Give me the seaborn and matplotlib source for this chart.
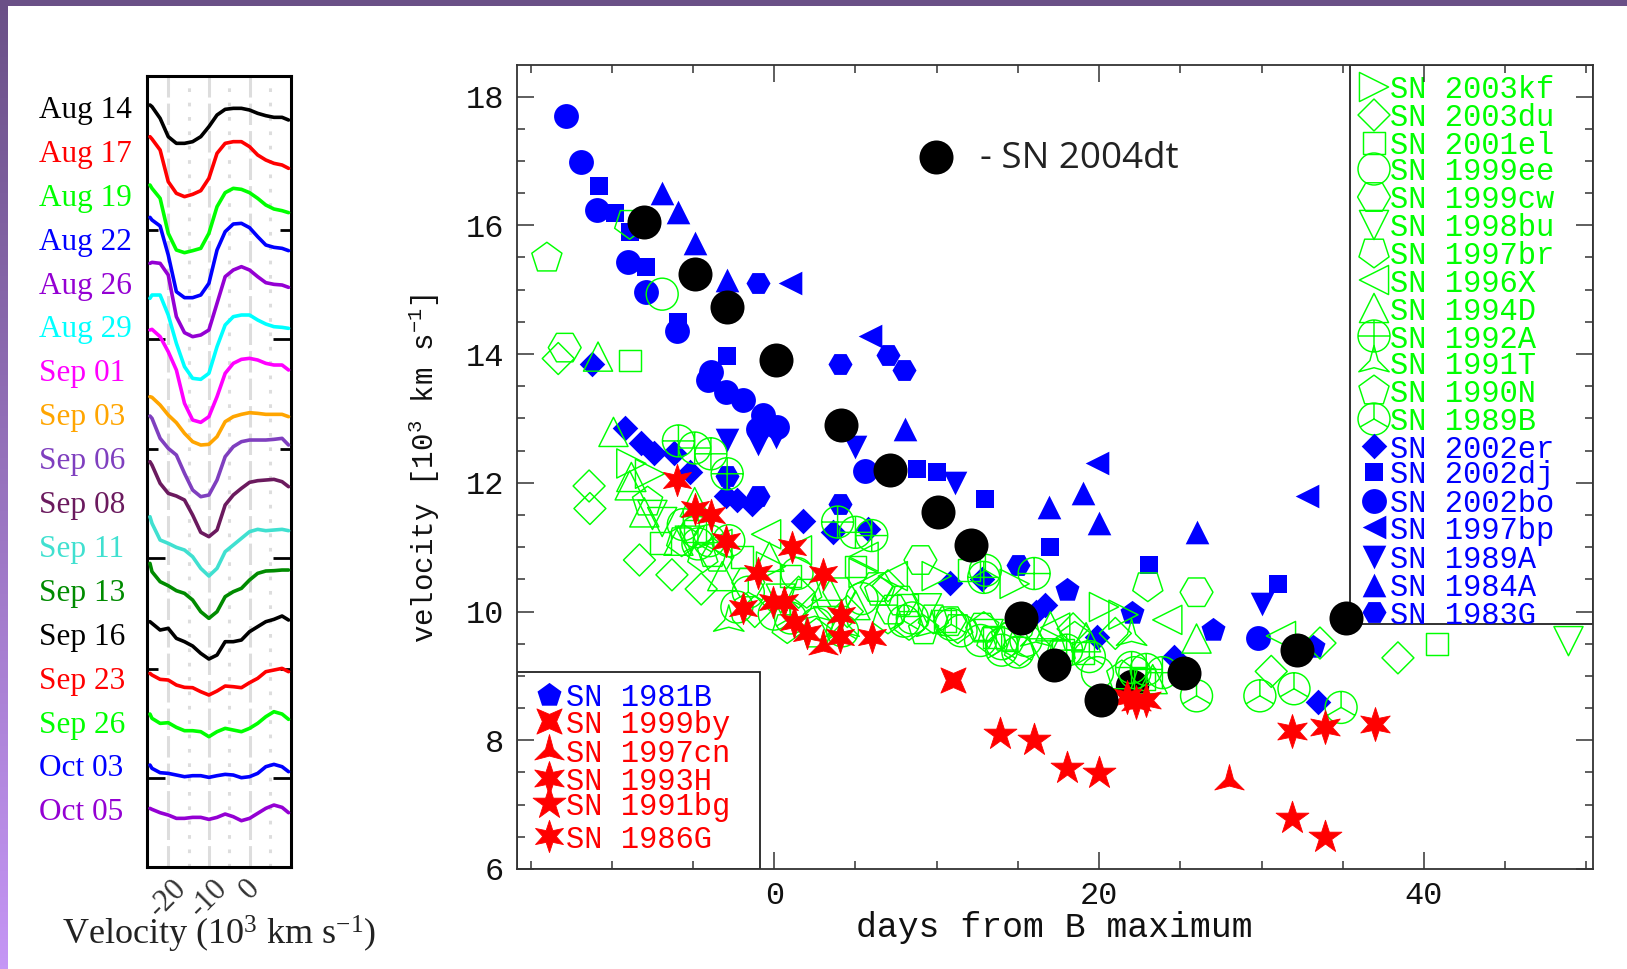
import numpy as np
import pandas as pd
import matplotlib
matplotlib.use("Agg")
import matplotlib.pyplot as plt
from matplotlib.path import Path
from matplotlib.patches import Rectangle
from matplotlib.transforms import Affine2D
import seaborn as sns

W, H = 1627, 969
sns.set_theme(style="white")
plt.rcParams['mathtext.fontset'] = 'custom'
plt.rcParams['mathtext.rm'] = 'Liberation Serif'
plt.rcParams['mathtext.tt'] = 'Liberation Mono'
plt.rcParams['mathtext.default'] = 'regular'

# ---------- left panel data ----------
velocity = [-24.5, -24, -22, -20, -18, -16, -14, -12, -10, -8, -6, -4, -2, 0, 2, 4, 6, 8, 9.6]
dates = ["Aug 14", "Aug 17", "Aug 19", "Aug 22", "Aug 26", "Aug 29", "Sep 01", "Sep 03", "Sep 06",
         "Sep 08", "Sep 11", "Sep 13", "Sep 16", "Sep 23", "Sep 26", "Oct 03", "Oct 05"]
date_colors = ["#000000", "#ff0000", "#00ff00", "#0000ff", "#9400d3", "#00ffff", "#ff00ff", "#ffa500",
               "#7f3fbf", "#6b1a5e", "#40e0d0", "#008b00", "#000000", "#ff0000", "#00ff00", "#0000ff", "#9400d3"]
aug14 = [2285,2280,2245,2190,2170,2170,2175,2190,2220,2255,2272,2275,2275,2270,2260,2253,2248,2248,2240]
aug17 = [2190,2183,2150,2055,2020,2010,2017,2028,2065,2140,2170,2175,2175,2160,2135,2120,2110,2105,2095]
aug19 = [2045,2035,2005,1900,1850,1842,1848,1855,1900,1980,2022,2035,2032,2022,2005,1985,1973,1968,1962]
aug22 = [1948,1940,1922,1835,1725,1707,1707,1715,1750,1850,1905,1928,1930,1917,1890,1865,1858,1855,1848]
aug26 = [1810,1813,1810,1775,1650,1602,1590,1595,1610,1690,1770,1790,1800,1790,1770,1752,1747,1745,1738]
aug29 = [1705,1715,1715,1655,1570,1500,1465,1462,1480,1560,1625,1650,1655,1655,1640,1628,1620,1618,1615]
sep01 = [1610,1612,1590,1545,1490,1390,1340,1333,1350,1410,1480,1510,1522,1525,1520,1510,1505,1505,1490]
sep03 = [1410,1408,1385,1355,1332,1300,1275,1265,1267,1290,1335,1350,1357,1362,1360,1357,1357,1357,1350]
sep06 = [1352,1345,1285,1255,1235,1180,1130,1110,1115,1160,1230,1260,1275,1280,1280,1280,1282,1285,1265]
sep08 = [1215,1205,1150,1120,1112,1100,1055,1003,990,1010,1085,1115,1135,1153,1158,1160,1162,1155,1140]
sep11 = [1050,1030,980,970,958,950,930,895,872,895,945,965,985,1005,1012,1008,1010,1012,1008]
sep13 = [910,885,855,843,828,820,800,765,745,765,810,825,835,860,880,887,888,890,890]
sep16 = [735,730,710,715,685,675,662,640,623,635,675,675,680,705,720,735,742,752,740]
sep23 = [580,575,562,560,545,538,537,525,515,527,542,540,537,552,565,585,590,595,585]
sep26 = [458,445,430,432,418,408,408,405,390,405,415,410,405,415,430,450,465,458,442]
oct03 = [305,295,282,280,275,270,273,273,268,273,277,275,267,270,280,300,307,300,285]
oct05 = [175,172,162,155,145,145,148,148,142,148,158,150,138,145,160,175,185,178,162]
spectra = [aug14, aug17, aug19, aug22, aug26, aug29, sep01, sep03, sep06, sep08, sep11, sep13, sep16,
           sep23, sep26, oct03, oct05]
flux_ticks_major = [265, 927, 1582]
flux_ticks_minor = [593, 1253, 1910]

# ---------- right panel data (days, velocity) ----------
sn2004dt = [(-8,16.05),(-4.9,15.25),(-2.9,14.73),(0.1,13.9),(4.1,12.9),(7.1,12.2),(10.1,11.55),(12.1,11.03),
            (15.2,9.9),(17.2,9.17),(20.1,8.63),(25.2,9.05),(32.2,9.4),(35.2,9.9)]
sn2004dt_under = [(22.0,8.85)]

sn2003kf = [(-8.8,12.3),(-7.65,12.14),(-0.2,10.7),(5.5,10.6),(10.0,10.55),(14.8,10.43),(20.3,10.07),(21.5,9.95)]
sn2003du = [(-13.3,13.93),(-11.4,11.95),(-11.35,11.6),(-8.3,10.8),(-6.3,10.57),(-4.5,10.35),(-1.2,10.0),(1.5,10.3),
            (4.5,10.0),(7,10.4),(18.4,9.73),(21,9.66),(30.6,9.07),(33.6,9.51),(38.4,9.28)]
sn2001el = [(-8.9,13.9),(-7,11.06),(-4.9,11.25),(-2.0,10.85),(1,10.55),(5,10.7),(8.2,10.1),(10.5,9.85),(12,10.64),
            (13.5,9.6),(17.8,9.4),(19,9.35),(22.8,8.95),(40.8,9.49)]
sn1999ee = [(-6.9,14.93),(-4.8,11.24),(-4,11.1),(-2.8,11.1),(-2.3,10.07),(0,9.96),(1.4,10.59),(2.6,9.81),(5.4,10.2),
            (8.5,9.9),(11.5,9.7),(12.7,9.55),(14,9.5),(15.5,9.55),(19.9,9.05),(22.2,9.05)]
sn1999cw = [(-12.9,14.1),(-3.5,10.85),(-1.6,10.45),(4.0,10.3),(6.3,10.38),(7.3,10.03),(7.8,10.17),(9.0,10.8),(10.8,9.85),
            (12.8,9.75),(14.6,9.6),(26,10.3)]
sn1998bu = [(-7.5,11.5),(-6.9,11.39),(-5.2,11.1),(0.4,10.2),(3.3,9.85),(9.4,10.05),(13.2,9.65),(16.6,9.35),(48.9,9.54)]
sn1997br = [(-8.9,16.03),(-5.7,11.1),(-4.4,10.85),(0.8,9.75),(2.0,10.3),(7.0,9.9),(8.3,9.8),(9.8,9.9),(11.3,9.75),(13.4,9.55),
            (15.1,9.4),(17.6,9.35),(23,10.4)]
sn1996X = [(-0.5,11.2),(-3.5,11.05),(1.4,10.95),(5.5,10.85),(7.3,10.55),(17.3,9.75),(24.2,9.87),(31.2,9.62)]
sn1994D = [(-10.85,13.96),(-9.9,12.79),(-8.8,12.09),(-8.9,11.96),(-8,11.54),(-5.9,11.1),(-4.9,11.7),(-3.2,10.55),(-0.3,10.85),
           (3.2,10.4),(5.0,10.1),(17,9.77),(19.2,9.6),(23.3,8.95),(26,9.58)]
sn1992A = [(-5.9,12.65),(-4.9,12.54),(-3.9,12.45),(-2.9,12.14),(3.9,11.39),(5,11.23),(6,11.18),(12.9,10.53),(16,10.59),
           (18,9.4),(22,9.13),(22.9,9.1),(23.9,9.05)]
sn1991T = [(-2.8,9.83),(2.5,10.0),(4.3,9.75),(9.7,9.75),(16.1,9.6),(22,9.61)]
sn1990N = [(-14,15.49),(-7.8,11.7),(-3.8,10.9),(2.6,9.65),(6.5,10.3),(9.2,9.7),(12.9,9.75),(14.3,9.6),(18.5,9.6),(21.4,9.0)]
sn1989B = [(-5.6,11.35),(-4.7,11.05),(-1.6,10.3),(1.0,9.9),(4.2,9.7),(8.0,9.85),(10.9,9.8),(13,10.64),(14,9.4),(15,9.37),
           (19.4,9.3),(26,8.69),(29.9,8.69),(32,8.8),(34.9,8.51)]

sn2002er = [(-11.2,13.85),(-9.2,12.85),(-8.2,12.62),(-7.4,12.46),(-6.2,12.46),(-5.2,12.17),(-3,11.8),(-2.3,11.73),(-1.4,11.67),
            (1.8,11.4),(3.6,11.23),(5.75,11.28),(10.8,10.45),(12.8,10.5),(16.1,10.0),(16.7,10.1),(19.9,9.6),(24.6,9.3),(33.5,8.6)]
sn2002dj = [(-10.8,16.61),(-9.8,16.19),(-8.9,15.9),(-7.9,15.35),(-5.9,14.5),(-2.9,13.97),(8.76,12.22),(10,12.17),(13,11.75),
            (17,11.0),(23.1,10.72),(31,10.43)]
sn2002bo = [(-12.85,17.7),(-11.9,16.99),(-10.9,16.23),(-9,15.43),(-7.9,14.96),(-6,14.35),(-3.9,13.72),(-4.07,13.6),(-3,13.41),
            (-1.9,13.28),(-0.7,13.05),(-1,12.84),(0.14,12.87),(5.6,12.18),(29.8,9.59)]
sn1997bp = [(1,15.1),(5.9,14.28),(19.9,12.31),(32.8,11.8)]
sn1989A = [(-2.9,12.66),(-1,12.6),(0.1,12.71),(5,12.56),(11.1,12),(30,10.12)]
sn1984A = [(-6.9,16.5),(-5.9,16.21),(-4.9,15.72),(-2.9,15.15),(8.05,12.84),(16.9,11.63),(19,11.84),(20,11.37),(26,11.23)]
sn1983G = [(-1,15.1),(4.04,13.84),(7,13.98),(8,13.75),(-1,11.8),(4.04,11.67),(15,10.73),(-2.9,12.11)]
sn1981B = [(18,10.33),(22,9.97),(27,9.72),(33.2,9.45)]

sn1999by = [(11.03,8.93)]
sn1997cn = [(3.0,9.47),(28,7.36)]
sn1993H = [(21.7,8.67),(22.3,8.6),(22.9,8.63),(31.9,8.15),(33.9,8.2),(37,8.26)]
sn1991bg = [(13.9,8.09),(16,8.0),(18,7.57),(20,7.49),(31.9,6.8),(33.9,6.49)]
sn1986G = [(-6,12.05),(-4.9,11.6),(-3.9,11.5),(-3,11.1),(-1.9,10.05),(-1,10.6),(-0.1,10.15),(0.6,10.15),(1.1,11.0),(3,10.58),
           (1.2,9.83),(2,9.66),(4.1,9.95),(4.07,9.6),(6,9.6)]

# ---------- markers ----------
def circ_cross():
    return Path.make_compound_path(Path.unit_circle(), Path([(-1,0),(1,0)]), Path([(0,-1),(0,1)]))
def circ_y():
    a = np.deg2rad(30)
    return Path.make_compound_path(Path.unit_circle(), Path([(0,0),(0,1)]),
                                   Path([(0,0),(-np.cos(a),-np.sin(a))]), Path([(0,0),(np.cos(a),-np.sin(a))]))
tri_star = Path.unit_regular_star(3, innerCircle=0.27)
x_star = Path.unit_regular_star(4, innerCircle=0.4).transformed(Affine2D().rotate_deg(45))
six_star = Path.unit_regular_star(6, innerCircle=0.42)

GREEN, BLUE, RED = "#00ff00", "#0000ff", "#ff0000"
green_series = [("SN 2003kf", sn2003kf, ">", 440), ("SN 2003du", sn2003du, "D", 265), ("SN 2001el", sn2001el, "s", 245),
                ("SN 1999ee", sn1999ee, "o", 530), ("SN 1999cw", sn1999cw, "H", 560), ("SN 1998bu", sn1998bu, "v", 440),
                ("SN 1997br", sn1997br, (5,0,180), 520), ("SN 1996X", sn1996X, "<", 440), ("SN 1994D", sn1994D, "^", 440),
                ("SN 1992A", sn1992A, circ_cross(), 530), ("SN 1991T", sn1991T, tri_star, 640), ("SN 1990N", sn1990N, "p", 520),
                ("SN 1989B", sn1989B, circ_y(), 530)]
blue_series = [("SN 2002er", sn2002er, "D", 170), ("SN 2002dj", sn2002dj, "s", 160), ("SN 2002bo", sn2002bo, "o", 320),
               ("SN 1997bp", sn1997bp, "<", 290), ("SN 1989A", sn1989A, "v", 290), ("SN 1984A", sn1984A, "^", 290),
               ("SN 1983G", sn1983G, "H", 300)]
blue2 = [("SN 1981B", sn1981B, "p", 330)]
red_series = [("SN 1999by", sn1999by, x_star, 330), ("SN 1997cn", sn1997cn, tri_star, 600), ("SN 1993H", sn1993H, six_star, 600),
              ("SN 1991bg", sn1991bg, "*", 620), ("SN 1986G", sn1986G, six_star, 540)]

fig = plt.figure(figsize=(W/100, H/100), dpi=100, facecolor="white")

def add_ax(l, t, r, b):
    return fig.add_axes([l/W, 1-b/H, (r-l)/W, (b-t)/H])

# purple frame
bg = add_ax(0, 0, 8, H)
bg.imshow(np.linspace(0, 1, 256)[:, None], aspect="auto", cmap=matplotlib.colors.LinearSegmentedColormap.from_list("f", ["#6a5087", "#c596f5"]))
bg.axis("off")
tp = add_ax(0, 0, W, 5.5)
tp.add_patch(Rectangle((0, 0), 1, 1, color="#6a5087", transform=tp.transAxes))
tp.axis("off")

# ---------- left panel ----------
axL = add_ax(146.7, 76, 291, 866.7)
for v in [-20, -10, 0]:
    axL.axvline(v, color="#dddddd", lw=2.2, ls=(0, (7, 2)), zorder=1)
for v in [-15, -5, 5]:
    axL.axvline(v, color="#dddddd", lw=2.2, ls=(0, (1.2, 3.5)), zorder=1)
for name, col, flux in zip(dates, date_colors, spectra):
    df = pd.DataFrame({"velocity": velocity, "flux": flux})
    sns.lineplot(data=df, x="velocity", y="flux", color=col, lw=2.6, ax=axL, estimator=None, sort=False, zorder=3)
axL.set_xlim(-25.3, 10.2)
axL.set_ylim(0, 2372)
axL.set_xlabel("")
axL.set_ylabel("")
axL.set_xticks([-20, -10, 0])
axL.set_xticklabels(["-20", "-10", "0"], rotation=45, ha="center", va="top", family="Liberation Serif",
                    fontsize=22, color="#333333")
axL.tick_params(axis="x", length=0, pad=5, bottom=False)
axL.set_yticks(flux_ticks_major)
axL.set_yticks(flux_ticks_minor, minor=True)
axL.tick_params(axis="y", which="major", left=True, right=True, length=13, width=2, direction="in", color="black", labelleft=False)
axL.tick_params(axis="y", which="minor", left=True, right=True, length=8, width=2, direction="in", color="black", labelleft=False)
for s in axL.spines.values():
    s.set_linewidth(2.2)
    s.set_color("black")
for i, (name, col) in enumerate(zip(dates, date_colors)):
    fig.text(39/W, 1-(118+i*43.9)/H, name, color=col, family="Liberation Serif", fontsize=22.5, ha="left", va="baseline")
fig.text(219/W, 1-934/H, r"Velocity (10$^{3}$ km s$^{-1}$)", family="Liberation Serif", fontsize=26, color="#222222", ha="center", va="center")

# ---------- right panel ----------
ax = add_ax(516.5, 65, 1593, 869)

def scatter(pts, marker, s, color, hollow=False, lw=1.05, z=3):
    d = pd.DataFrame(pts, columns=["days", "vel"])
    before = len(ax.collections)
    sns.scatterplot(data=d, x="days", y="vel", marker=marker, s=s, color=color, edgecolor=color,
                    linewidth=lw, ax=ax, zorder=z, legend=False)
    if hollow:
        ax.collections[before].set_facecolor("none")

scatter(sn2004dt_under, "o", 530, "black", z=2)
for _, pts, m, s in green_series:
    scatter(pts, m, s, GREEN, hollow=True, z=3)
for _, pts, m, s in blue_series + blue2:
    scatter(pts, m, s, BLUE, z=2.5, lw=0)
for _, pts, m, s in red_series:
    scatter(pts, m, s, RED, z=4, lw=0.6)
scatter(sn2004dt, "o", 600, "black", z=10, lw=0)

ax.set_xlim(-15.87, 50.41)
ax.set_ylim(6, 18.49)
ax.set_xlabel("")
ax.set_ylabel("")
ax.set_xticks([0, 20, 40])
ax.set_xticks(np.arange(-15, 51, 5), minor=True)
ax.set_yticks([6, 8, 10, 12, 14, 16, 18])
ax.set_yticks(np.arange(6, 18.5, 0.5), minor=True)
ax.tick_params(which="major", direction="in", length=12.2, width=1.1, color="#333333",
               top=True, right=True, bottom=True, left=True, labelsize=23, pad=9, labelcolor="#111111")
ax.tick_params(which="minor", direction="in", length=5.8, width=1.1, color="#333333",
               top=True, right=True, bottom=True, left=True)
for lab in ax.get_xticklabels() + ax.get_yticklabels():
    lab.set_family("Liberation Mono")
for s in ax.spines.values():
    s.set_linewidth(1.3)
    s.set_color("#333333")
    s.set_zorder(20)
ax.xaxis.set_zorder(20)
ax.yaxis.set_zorder(20)

def to_ax(px, py):
    return (px-516.5)/(1593-516.5), (869-py)/(869-65)

# legend boxes
x0, y1 = to_ax(1350, 624)
ax.add_patch(Rectangle((x0, y1), 1-x0, 1-y1, transform=ax.transAxes, fc="white", ec="#222222", lw=1.3, zorder=5))
x1, y2 = to_ax(760, 672)
ax.add_patch(Rectangle((0, 0), x1, y2, transform=ax.transAxes, fc="white", ec="#222222", lw=1.3, zorder=5))

def legend_row(px_m, px_t, py, label, marker, s, color, hollow, lw):
    mx, my = to_ax(px_m, py)
    tx, ty = to_ax(px_t, py)
    before = len(ax.collections)
    sns.scatterplot(x=[mx], y=[my], marker=marker, s=s, color=color, edgecolor=color, linewidth=lw,
                    ax=ax, transform=ax.transAxes, zorder=6, legend=False, clip_on=False)
    if hollow:
        ax.collections[before].set_facecolor("none")
    ax.text(tx, ty, label, transform=ax.transAxes, color=color, family="Liberation Mono", fontsize=22,
            ha="left", va="center_baseline", zorder=7)

rows_r = [87,115,143,169,197,225,252,280,308,336,363,391,419,446,472,501,527,557,585,612]
right_items = [(n, m, s, GREEN, True, 1.05) for n, _, m, s in green_series] + \
              [(n, m, s, BLUE, False, 0) for n, _, m, s in blue_series]
for py, (n, m, s, c, h, lw) in zip(rows_r, right_items):
    legend_row(1374, 1390, py, n, m, s, c, h, lw)

rows_l = [695, 721, 751, 778, 803, 836]
left_items = [(n, m, s, BLUE, False, 0) for n, _, m, s in blue2] + \
             [(n, m, s, RED, False, 0.6) for n, _, m, s in red_series]
for py, (n, m, s, c, h, lw) in zip(rows_l, left_items):
    legend_row(549, 566, py, n, m, s, c, h, lw)

# SN 2004dt key
kx, ky = to_ax(936, 157)
sns.scatterplot(x=[kx], y=[ky], marker="o", s=600, color="black", edgecolor="black", linewidth=0, ax=ax,
                transform=ax.transAxes, zorder=6, legend=False)
tx, ty = to_ax(980, 159)
ax.text(tx, ty, "- SN 2004dt", transform=ax.transAxes, family="Open Sans", fontsize=26.5, color="#222222", ha="left", va="center", zorder=7)

ax.set_xlim(-15.87, 50.41)
ax.set_ylim(6, 18.49)

fig.text(1054/W, 1-928/H, "days from B maximum", family="Liberation Mono", fontsize=25, color="#111111", ha="center", va="center")
fig.text(424/W, 1-468/H, r"velocity [10$^{\mathtt{3}}$ km s$^{\mathtt{-1}}$]", family="Liberation Mono", fontsize=21,
         color="#111111", rotation=90, ha="center", va="center")

fig.savefig("out.png", dpi=100, facecolor="white")
